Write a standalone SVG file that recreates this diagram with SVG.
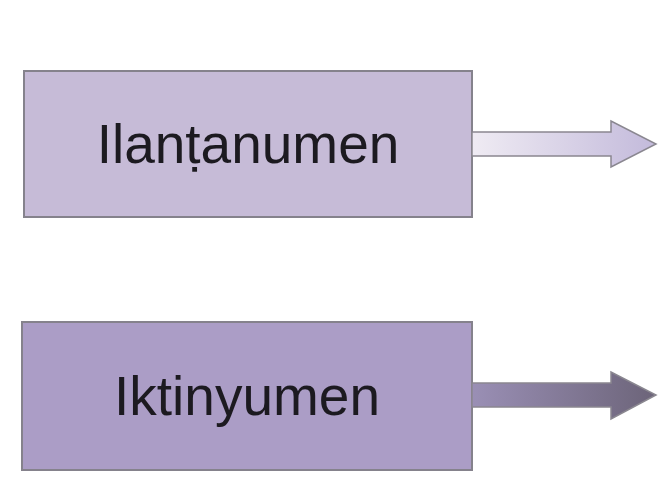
<svg xmlns="http://www.w3.org/2000/svg" width="658" height="479" viewBox="0 0 658 479">
  <defs>
    <linearGradient id="g1" x1="0" y1="0" x2="1" y2="0">
      <stop offset="0" stop-color="#efebf3"/>
      <stop offset="1" stop-color="#c3badb"/>
    </linearGradient>
    <linearGradient id="g2" x1="0" y1="0" x2="1" y2="0">
      <stop offset="0" stop-color="#9a8fb5"/>
      <stop offset="1" stop-color="#6c6479"/>
    </linearGradient>
    <style>
      .box { stroke: #85828c; stroke-width: 2; }
      .lbl { font-family: "Liberation Sans", Arial, sans-serif; font-size: 55px; fill: #1c1a20; text-anchor: middle; }
      .arr { stroke: #8a8790; stroke-width: 1.5; stroke-linejoin: miter; }
    </style>
  </defs>
  <rect width="658" height="479" fill="#ffffff"/>
  <g id="node-ilantanumen">
    <rect class="box" x="24" y="71" width="448" height="146" fill="#c6bbd7"/>
    <text class="lbl" x="248" y="163">Ilanṭanumen</text>
  </g>
  <g id="node-iktinyumen">
    <rect class="box" x="22" y="322" width="450" height="148" fill="#ab9dc6"/>
    <text class="lbl" x="247" y="415">Iktinyumen</text>
  </g>
  <g id="connectors">
    <polygon class="arr" fill="url(#g1)" points="472,132 611,132 611,121 656,144 611,167 611,156 472,156"/>
    <polygon class="arr" fill="url(#g2)" stroke="#6a6572" points="472,383 611,383 611,372 656,395 611,419 611,407 472,407"/>
  </g>
</svg>
